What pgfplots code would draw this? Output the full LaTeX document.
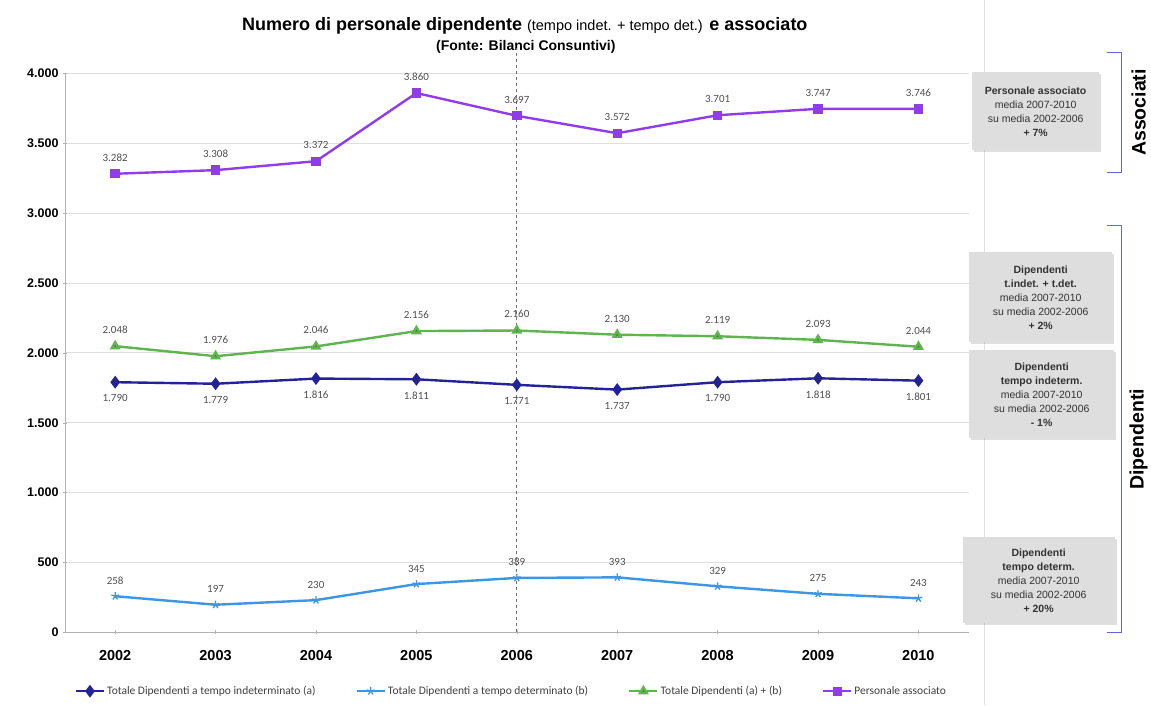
\documentclass[border=0pt]{standalone}
\usepackage{pgfplots}
\pgfplotsset{compat=1.18}
\usepackage{fontspec}
\setmainfont{Liberation Sans}
\newfontfamily\carlito{Carlito}
\usetikzlibrary{shadows}
\definecolor{cnavy}{RGB}{35,35,150}
\definecolor{clight}{RGB}{60,150,230}
\definecolor{cgreen}{RGB}{95,180,80}
\definecolor{cpurple}{RGB}{145,60,235}
\definecolor{boxgray}{RGB}{222,222,222}
\definecolor{brk}{RGB}{95,105,220}
\definecolor{lbl}{RGB}{80,80,80}

\begin{document}
\begin{tikzpicture}[x=1pt,y=1pt]
\path[fill=white] (0,0) rectangle (1151,705);
\draw[black!12, line width=1pt] (985,0) -- (985,705);

% title
\node[font=\bfseries\fontsize{18}{19}\selectfont] at (525,680)
  {Numero di personale dipendente {\mdseries\fontsize{14.5}{16}\selectfont(tempo indet. + tempo det.)} e associato};
\node[font=\bfseries\fontsize{14}{16}\selectfont] at (526,659) {(Fonte: Bilanci Consuntivi)};

\begin{axis}[
  at={(65pt,73pt)}, anchor=south west,
  scale only axis, width=904pt, height=559pt,
  xmin=2001.5, xmax=2010.5, ymin=0, ymax=4000,
  xtick={2002,...,2010}, ytick={0,500,...,4000},
  axis x line=bottom, axis y line=left,
  axis line style={black!30, -, line width=0.8pt},
  ymajorgrids, grid style={black!13, line width=0.8pt},
  major tick length=4pt, tick style={black!30},
  /pgf/number format/assume math mode=true,
  x tick label style={/pgf/number format/1000 sep={}, font=\bfseries\fontsize{14.5}{16}\selectfont, yshift=-12pt},
  y tick label style={/pgf/number format/1000 sep={.}, font=\bfseries\fontsize{12.5}{14}\selectfont},
  clip=false,
  line width=2.4pt,
  every node near coord/.append style={font=\carlito\fontsize{11}{12}\selectfont, text=lbl,
     /pgf/number format/1000 sep={.}, /pgf/number format/assume math mode=true},
  legend style={at={(0.494,-0.1055)}, anchor=center, draw=none, fill=none,
     font=\carlito\fontsize{11.5}{12}\selectfont, text=black!75, legend columns=4,
     /tikz/every even column/.append style={column sep=38pt}},
  legend image code/.code={\draw[#1, line width=2pt] (0pt,0pt) -- (28pt,0pt);
     \draw[#1, mark repeat=2, mark phase=2] plot coordinates {(0pt,0pt) (14pt,0pt) (28pt,0pt)};},
]
\draw[black!55, dashed, line width=1pt] (axis cs:2006,0) -- (axis cs:2006,4180);

\addplot[cnavy, mark=diamond*, mark size=4.5pt, nodes near coords,
  every node near coord/.append style={anchor=north, yshift=-8pt}] coordinates {
  (2002,1790) (2003,1779) (2004,1816) (2005,1811) (2006,1771)
  (2007,1737) (2008,1790) (2009,1818) (2010,1801)};
\addlegendentry{Totale Dipendenti a tempo indeterminato (a)}

\addplot[clight, mark=star, mark size=4pt, mark options={line width=1.3pt}, nodes near coords,
  every node near coord/.append style={anchor=south, yshift=8pt}] coordinates {
  (2002,258) (2003,197) (2004,230) (2005,345) (2006,389)
  (2007,393) (2008,329) (2009,275) (2010,243)};
\addlegendentry{Totale Dipendenti a tempo determinato (b)}

\addplot[cgreen, mark=triangle*, mark size=4pt, mark options={fill=cgreen!70!black}, nodes near coords,
  every node near coord/.append style={anchor=south, yshift=8pt}] coordinates {
  (2002,2048) (2003,1976) (2004,2046) (2005,2156) (2006,2160)
  (2007,2130) (2008,2119) (2009,2093) (2010,2044)};
\addlegendentry{Totale Dipendenti (a) + (b)}

\addplot[cpurple, mark=square*, mark size=3.5pt, nodes near coords,
  every node near coord/.append style={anchor=south, yshift=8pt}] coordinates {
  (2002,3282) (2003,3308) (2004,3372) (2005,3860) (2006,3697)
  (2007,3572) (2008,3701) (2009,3747) (2010,3746)};
\addlegendentry{Personale associato}
\end{axis}

% side boxes
\tikzset{sbox/.style={fill=boxgray, drop shadow={opacity=0.25, shadow xshift=2pt, shadow yshift=-2pt},
  align=center, inner sep=0pt, font=\fontsize{10.5}{14}\selectfont, text=black!80}}
\node[sbox, minimum width=127pt, minimum height=78pt] at (1036,594)
  {\textbf{Personale associato}\\media 2007-2010\\su media 2002-2006\\\textbf{+ 7\%}};
\node[sbox, minimum width=143pt, minimum height=90pt] at (1041,408)
  {\textbf{Dipendenti}\\\textbf{t.indet. + t.det.}\\media 2007-2010\\su media 2002-2006\\\textbf{+ 2\%}};
\node[sbox, minimum width=145pt, minimum height=88pt] at (1042,311)
  {\textbf{Dipendenti}\\\textbf{tempo indeterm.}\\media 2007-2010\\su media 2002-2006\\\textbf{- 1\%}};
\node[sbox, minimum width=152pt, minimum height=86pt] at (1039,125)
  {\textbf{Dipendenti}\\\textbf{tempo determ.}\\media 2007-2010\\su media 2002-2006\\\textbf{+ 20\%}};

% brackets
\draw[brk, line width=1.3pt] (1107,653) -- (1122,653) -- (1122,533) -- (1107,533);
\draw[brk, line width=1.3pt] (1107,480) -- (1122,480) -- (1122,73) -- (1107,73);
\node[rotate=90, font=\bfseries\fontsize{19.5}{21}\selectfont] at (1139,593) {Associati};
\node[rotate=90, font=\bfseries\fontsize{19.5}{21}\selectfont] at (1139,266) {Dipendenti};
\end{tikzpicture}
\end{document}
